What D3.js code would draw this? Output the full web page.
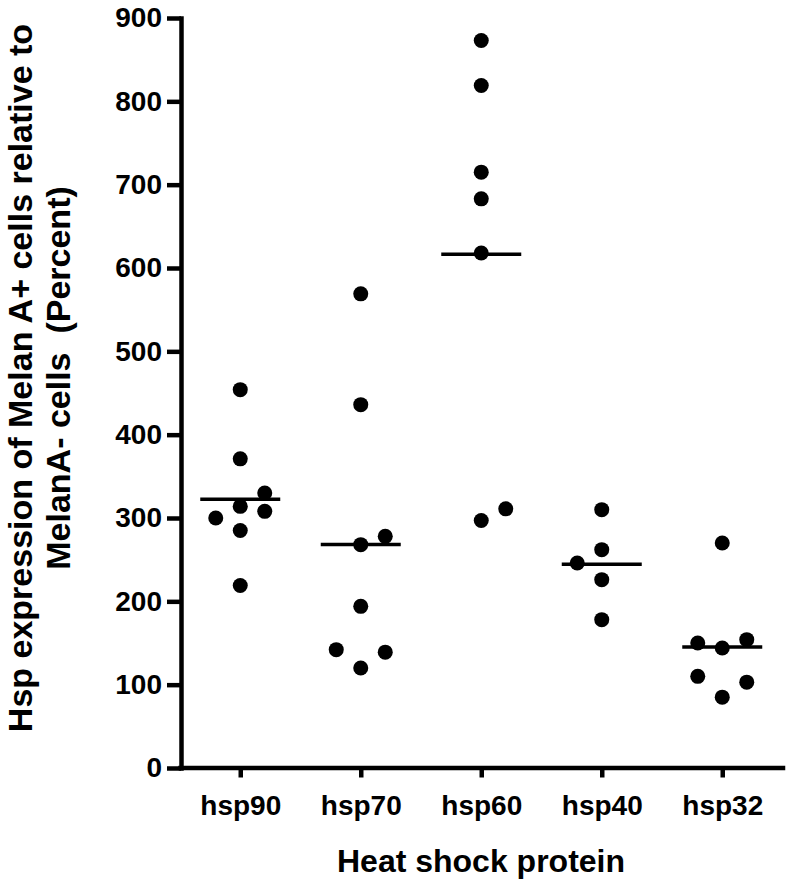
<!DOCTYPE html>
<html>
<head>
<meta charset="utf-8">
<script src="https://d3js.org/d3.v7.min.js"></script>
<style>
  body { margin: 0; background: #fff; }
  text { font-family: "Liberation Sans", Arial, Helvetica, sans-serif; font-weight: bold; fill: #000; }
</style>
</head>
<body>
<div id="svgbody"></div>
<script>
// chart data
const categories = ['hsp90', 'hsp70', 'hsp60', 'hsp40', 'hsp32'];
const hsp90 = [454, 371, 330, 314, 308, 300, 285, 219];
const hsp70 = [569, 436, 278, 268, 194, 142, 139, 120];
const hsp60 = [873, 819, 715, 683, 618, 311, 297];
const hsp40 = [310, 262, 246, 226, 178];
const hsp32 = [270, 154, 150, 144, 110, 103, 85];
// column slot of each point (-1 left, 0 middle, 1 right) so overlapping dots spread out
const hsp90Slots = [0, 0, 1, 0, 1, -1, 0, 0];
const hsp70Slots = [0, 0, 1, 0, 0, -1, 1, 0];
const hsp60Slots = [0, 0, 0, 0, 0, 1, 0];
const hsp40Slots = [0, 0, -1, 0, 0];
const hsp32Slots = [0, 1, -1, 0, -1, 1, 0];
const yTicks = [0, 100, 200, 300, 400, 500, 600, 700, 800, 900];
const xTitle = 'Heat shock protein';
const yTitle = ['Hsp expression of Melan A+ cells relative to', 'MelanA- cells  (Percent)'];

window.onload = () => {
    draw();
};

function draw() {
    let seriesList = [hsp90, hsp70, hsp60, hsp40, hsp32];
    let slotList = [hsp90Slots, hsp70Slots, hsp60Slots, hsp40Slots, hsp32Slots];

    let svg = d3.select("#svgbody").append('svg').attr("width", 786).attr("height", 879);

    let x = d3.scalePoint().domain(categories).range([180, 782.5]).padding(0.5);
    let y = d3.scaleLinear().domain([0, 900]).range([768, 18]);
    let slotGap = 24.5;

    // axes
    let yAxis = svg.append('g').attr('transform', 'translate(181,0)')
        .call(d3.axisLeft(y).tickValues(yTicks).tickSize(14).tickSizeOuter(0).tickPadding(5));
    let xAxis = svg.append('g').attr('transform', 'translate(0,767.5)')
        .call(d3.axisBottom(x).tickSize(10).tickSizeOuter(0));

    [yAxis, xAxis].forEach(ax => {
        ax.select('.domain').attr('stroke', '#000').attr('stroke-width', 4.5).attr('stroke-linecap', 'square');
        ax.selectAll('.tick line').attr('stroke', '#000').attr('stroke-width', 4.5);
        ax.selectAll('.tick text').attr('font-size', '28px').attr('fill', '#000')
            .attr('font-family', '"Liberation Sans", Arial, sans-serif').attr('font-weight', 'bold');
    });
    xAxis.selectAll('.tick text').attr('dy', '0.71em').attr('y', 28);

    // dots + mean bars
    categories.forEach((cat, i) => {
        let vals = seriesList[i];
        let slots = slotList[i];
        let g = svg.append('g');
        g.selectAll('circle').data(vals).enter().append('circle')
            .attr('cx', (d, j) => x(cat) + slots[j] * slotGap)
            .attr('cy', d => y(d))
            .attr('r', 7.5)
            .attr('fill', '#000');
        let m = d3.mean(vals);
        g.append('line')
            .attr('x1', x(cat) - 40).attr('x2', x(cat) + 40)
            .attr('y1', y(m)).attr('y2', y(m))
            .attr('stroke', '#000').attr('stroke-width', 3.5);
    });

    // titles
    svg.append('text')
        .attr('x', 481).attr('y', 872)
        .attr('text-anchor', 'middle')
        .attr('font-size', '32px')
        .text(xTitle);

    let yPos = [32, 70];
    yTitle.forEach((t, i) => {
        svg.append('text')
            .attr('transform', 'translate(' + yPos[i] + ',378) rotate(-90)')
            .attr('text-anchor', 'middle')
            .attr('font-size', '34px')
            .style('white-space', 'pre')
            .text(t);
    });
}
</script>
</body>
</html>
